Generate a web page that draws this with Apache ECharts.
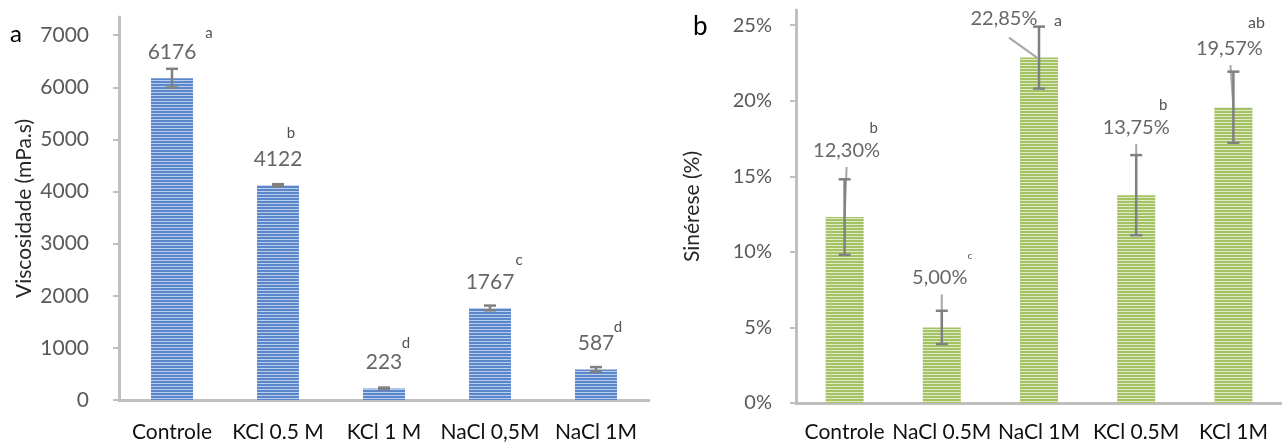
<!DOCTYPE html>
<html><head><meta charset="utf-8">
<script src="https://cdn.jsdelivr.net/npm/echarts@6/dist/echarts.min.js"></script>
<style>html,body{margin:0;padding:0;background:#fff}#c{width:1282px;height:443px}</style>
</head><body><div id="c"></div>
<script>
// ---- data: panel a ----
const catsA = ['Controle', 'KCl 0.5 M', 'KCl 1 M', 'NaCl 0,5M', 'NaCl 1M'];
const viscosity = [6176, 4122, 223, 1767, 587];
const viscErr = [180, 20, 15, 45, 45];
const lettersA = ['a', 'b', 'd', 'c', 'd'];
const ticksA = [0, 1000, 2000, 3000, 4000, 5000, 6000, 7000];
// ---- data: panel b ----
const catsB = ['Controle', 'NaCl 0.5M', 'NaCl 1M', 'KCl 0.5M', 'KCl 1M'];
const syneresis = [0.1230, 0.0500, 0.2285, 0.1375, 0.1957];
const synErr = [0.025, 0.011, 0.0205, 0.0265, 0.0235];
const lettersB = ['b', 'c', 'a', 'b', 'ab'];
const ticksB = [0, 0.05, 0.10, 0.15, 0.20, 0.25];

// ---- layout / style (pixel offsets of annotations relative to bar top) ----
const valueOffA = [[0, -26], [0, -26], [0, -26], [0, -26], [0, -26]];
const letterOffA = [[37, -45], [13, -52], [22, -45], [29, -48], [22, -42]];
const valueOffB = [[2, -67], [-2, -50], [-35, -39], [0, -68], [-4, -59]];
const letterOffB = [[29, -89], [28, -72], [19, -37], [27, -90], [23, -84]];
const letterSizeB = [15, 10, 16, 15, 16];
const leaderB = [[[2, -50], [0, 0]], [[0, -33], [0, 0]], [[-30, -20], [-2, 0]], [[0, -51], [0, 0]], [[-3, -42], [0, 0]]];

const FONT = 'Lato';
function stripes(dark, light) {
  const c = document.createElement('canvas');
  c.width = 4; c.height = 3;
  const g = c.getContext('2d');
  g.fillStyle = dark; g.fillRect(0, 0, 4, 2);
  g.fillStyle = light; g.fillRect(0, 2, 4, 1);
  return { image: c, repeat: 'repeat' };
}
function errSeries(idx, vals, errs, capW) {
  return {
    type: 'custom', xAxisIndex: idx, yAxisIndex: idx, z: 5, silent: true,
    data: vals.map((v, i) => [i, v]),
    renderItem: function (params, api) {
      const i = api.value(0), v = api.value(1), e = errs[i];
      const t = api.coord([i, v + e]), b = api.coord([i, v - e]);
      const x = t[0];
      const st = { stroke: '#808080', lineWidth: 2.5 };
      return { type: 'group', children: [
        { type: 'line', shape: { x1: x, y1: t[1], x2: x, y2: b[1] }, style: st },
        { type: 'line', shape: { x1: x - capW / 2, y1: t[1], x2: x + capW / 2, y2: t[1] }, style: st },
        { type: 'line', shape: { x1: x - capW / 2, y1: b[1], x2: x + capW / 2, y2: b[1] }, style: st }
      ] };
    }
  };
}
function textSeries(idx, vals, texts, offs, sizes, color) {
  return {
    type: 'scatter', xAxisIndex: idx, yAxisIndex: idx, symbolSize: 0, silent: true, z: 6,
    data: vals.map((v, i) => ({
      value: [i, v],
      label: { show: true, position: 'inside', offset: offs[i], formatter: texts[i],
        fontFamily: FONT, fontSize: sizes[i], color: color, align: 'center', verticalAlign: 'middle' }
    }))
  };
}
const fmtB = v => (v * 100).toFixed(2).replace('.', ',') + '%';

const chart = echarts.init(document.getElementById('c'), null, { renderer: 'canvas' });
const yAxisCommon = {
  type: 'value', splitLine: { show: false },
  axisLine: { show: true, lineStyle: { color: '#bfbfbf', width: 3 } },
  axisTick: { show: true, length: 6, lineStyle: { color: '#bfbfbf', width: 2 } },
  nameLocation: 'middle', nameRotate: 90,
  nameTextStyle: { fontFamily: FONT, fontSize: 21, color: '#262626' }
};
const xAxisCommon = {
  type: 'category', boundaryGap: true,
  axisLine: { show: true, lineStyle: { color: '#bfbfbf', width: 3 } },
  axisTick: { show: false }, splitLine: { show: false }
};
chart.setOption({
  animation: false,
  backgroundColor: '#fff',
  grid: [
    { left: 119, top: 17, width: 530, bottom: 43 },
    { left: 796, top: 10, width: 502, bottom: 39 }
  ],
  xAxis: [
    Object.assign({}, xAxisCommon, { gridIndex: 0, data: catsA,
      axisLabel: { interval: 0, hideOverlap: false, fontFamily: FONT, fontSize: 21, color: '#111', margin: 22 } }),
    Object.assign({}, xAxisCommon, { gridIndex: 1, data: catsB,
      axisLabel: { interval: 0, hideOverlap: false, fontFamily: FONT, fontSize: 21, color: '#111', margin: 19 } })
  ],
  yAxis: [
    Object.assign({}, yAxisCommon, { gridIndex: 0, min: 0, max: 7350,
      name: 'Viscosidade (mPa.s)', nameGap: 84,
      axisTick: Object.assign({}, yAxisCommon.axisTick, { customValues: ticksA }),
      axisLabel: { customValues: ticksA, fontFamily: FONT, fontSize: 21, color: '#595959', margin: 30,
        formatter: v => String(v) } }),
    Object.assign({}, yAxisCommon, { gridIndex: 1, min: 0, max: 0.26,
      name: 'Sinérese (%)', nameGap: 93,
      axisTick: Object.assign({}, yAxisCommon.axisTick, { customValues: ticksB }),
      axisLabel: { customValues: ticksB, fontFamily: FONT, fontSize: 20, color: '#595959', margin: 24,
        formatter: v => Math.round(v * 100) + '%' } })
  ],
  graphic: [
    { type: 'text', left: 10, top: 22, style: { text: 'a', font: '24px Lato', fill: '#000' } },
    { type: 'text', left: 693, top: 14, style: { text: 'b', font: '26px Lato', fill: '#000' } }
  ],
  series: [
    { type: 'bar', xAxisIndex: 0, yAxisIndex: 0, data: viscosity, barWidth: 42, silent: true,
      itemStyle: { color: stripes('#5b86c9', '#b9cdee') } },
    { type: 'bar', xAxisIndex: 1, yAxisIndex: 1, data: syneresis, barWidth: 38, silent: true,
      itemStyle: { color: stripes('#a3c362', '#e0eaca') } },
    {
      type: 'custom', xAxisIndex: 1, yAxisIndex: 1, z: 4, silent: true,
      data: syneresis.map((v, i) => [i, v]),
      renderItem: function (params, api) {
        const i = api.value(0), p = api.coord([i, api.value(1)]);
        const L = leaderB[i];
        return { type: 'line', shape: { x1: p[0] + L[0][0], y1: p[1] + L[0][1], x2: p[0] + L[1][0], y2: p[1] + L[1][1] },
          style: { stroke: '#a6a6a6', lineWidth: 2 } };
      }
    },
    errSeries(0, viscosity, viscErr, 12),
    errSeries(1, syneresis, synErr, 12),
    textSeries(0, viscosity, viscosity.map(String), valueOffA, viscosity.map(() => 21), '#404040'),
    textSeries(0, viscosity, lettersA, letterOffA, viscosity.map(() => 15), '#262626'),
    textSeries(1, syneresis, syneresis.map(fmtB), valueOffB, syneresis.map(() => 20), '#404040'),
    textSeries(1, syneresis, lettersB, letterOffB, letterSizeB, '#262626')
  ]
});
</script></body></html>
